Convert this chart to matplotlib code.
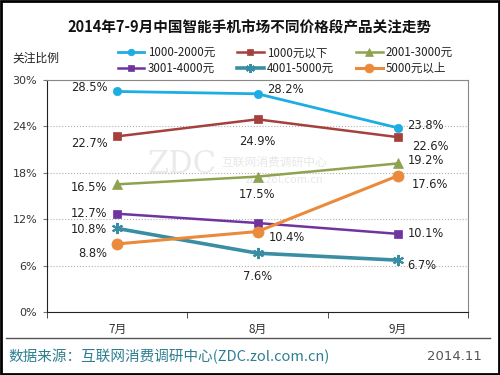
import matplotlib
matplotlib.use("Agg")
import matplotlib.pyplot as plt
from matplotlib.lines import Line2D
from matplotlib.patches import Rectangle

plt.rcParams['font.family'] = ['Noto Sans CJK SC', 'DejaVu Sans']

months = ["7月", "8月", "9月"]
series_names = ["1000-2000元", "1000元以下", "2001-3000元", "3001-4000元", "4001-5000元", "5000元以上"]
v_1000_2000 = [28.5, 28.2, 23.8]
v_below_1000 = [22.7, 24.9, 22.6]
v_2001_3000 = [16.5, 17.5, 19.2]
v_3001_4000 = [12.7, 11.5, 10.1]
v_4001_5000 = [10.8, 7.6, 6.7]
v_above_5000 = [8.8, 10.4, 17.6]
yticks = [0, 6, 12, 18, 24, 30]

values = [v_1000_2000, v_below_1000, v_2001_3000, v_3001_4000, v_4001_5000, v_above_5000]
colors = ["#1cade3", "#a5403d", "#8ea250", "#7034a0", "#3a8ea4", "#ea8a3a"]
markers = ["o", "s", "^", "s", (6, 2, 0), "o"]
msizes = [6, 6, 7, 6, 8, 8]
lws = [2.0, 1.8, 1.8, 1.8, 2.6, 2.2]

# label offsets in points (dx, dy, ha) per series per month; None = no label
offs = [
    [(-7, 3, 'right'), (7, 3, 'left'), (7, 2, 'left')],
    [(-7, -5, 'right'), (0, -16, 'center'), (10, -7, 'left')],
    [(-7, -2, 'right'), (0, -13, 'center'), (7, 2, 'left')],
    [(-7, 0, 'right'), None, (7, 0, 'left')],
    [(-7, -1, 'right'), (0, -17, 'center'), (7, -4, 'left')],
    [(-7, -7, 'right'), (8, -4, 'left'), (10, -6, 'left')],
]

fig = plt.figure(figsize=(5, 3.75), dpi=100)
fig.patch.set_facecolor('white')
ax = fig.add_axes([0.094, 0.168, 0.842, 0.619])

x = list(range(len(months)))
handles = []
for i, (name, vals) in enumerate(zip(series_names, values)):
    h, = ax.plot(x, vals, color=colors[i], lw=lws[i], marker=markers[i], ms=msizes[i],
                 mew=1.5 if i == 4 else 0.5, mec=colors[i], mfc=colors[i], label=name, zorder=3)
    handles.append(h)
    for j, v in enumerate(vals):
        o = offs[i][j]
        if o is None:
            continue
        ax.annotate(f"{v:.1f}%", (x[j], v), xytext=(o[0], o[1]), textcoords='offset points',
                    ha=o[2], va='center', fontsize=8.3, color='#222222', family='DejaVu Sans', zorder=4)

ax.set_xlim(-0.5, 2.5)
ax.set_ylim(0, 30)
ax.set_yticks(yticks)
ax.set_yticklabels([f"{t}%" for t in yticks], fontsize=8, color='#333333', family='DejaVu Sans')
ax.set_xticks(x)
ax.set_xticklabels(months, fontsize=8.5, color='#333333')
ax.set_xticks([-0.5, 0.5, 1.5, 2.5], minor=True)
ax.tick_params(axis='x', which='major', length=0, pad=8)
ax.tick_params(axis='x', which='minor', length=4, direction='out', color='#333333')
ax.tick_params(axis='y', length=3, direction='out', color='#777777', pad=4)
ax.grid(axis='y', linestyle=':', color='#b0b0b0', lw=0.8)
for s in ['top', 'right']:
    ax.spines[s].set_color('#888888')
    ax.spines[s].set_linewidth(0.8)
ax.spines['left'].set_color('#222222')
ax.spines['bottom'].set_color('#222222')

# watermark
ax.text(0.46, 19.0, "ZDC", fontsize=22, color='#dddddd', alpha=0.6, family='DejaVu Serif', va='center', ha='center', zorder=1)
ax.text(1.12, 19.3, "互联网消费调研中心", fontsize=8.5, color='#dddddd', alpha=0.7, va='center', ha='center', zorder=1)
ax.text(1.19, 17.1, "zdc.zol.com.cn", fontsize=8, color='#dddddd', alpha=0.7, va='center', ha='center', zorder=1)

fig.text(0.5, 0.928, "2014年7-9月中国智能手机市场不同价格段产品关注走势", ha='center', va='center',
         fontsize=10.5, fontweight='bold', color='#111111')
fig.text(0.024, 0.845, "关注比例", ha='left', va='center', fontsize=8.5, color='#222222')

order = [0, 3, 1, 4, 2, 5]
leg = fig.legend([handles[k] for k in order], [series_names[k] for k in order], ncol=3,
                 loc='center left', bbox_to_anchor=(0.215, 0.838), frameon=False, fontsize=8.3,
                 handlelength=2.3, handletextpad=0.3, columnspacing=1.9, labelspacing=0.25,
                 markerscale=0.8)
for t in leg.get_texts():
    t.set_color('#222222')

fig.add_artist(Line2D([0.012, 0.98], [0.099, 0.099], color='#555555', lw=1))
fig.text(0.016, 0.048, "数据来源：互联网消费调研中心(ZDC.zol.com.cn)", ha='left', va='center',
         fontsize=10.5, color='#2d7f90')
fig.text(0.964, 0.048, "2014.11", ha='right', va='center', fontsize=9.5, color='#555555', family='DejaVu Sans')
fig.add_artist(Rectangle((0.002, 0.003), 0.995, 0.994, transform=fig.transFigure, fill=False,
                         edgecolor='black', lw=2))

fig.savefig("out.png", dpi=100)
